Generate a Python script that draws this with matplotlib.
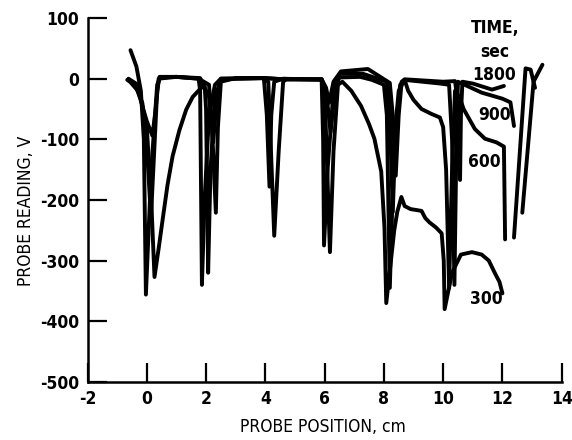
import numpy as np
import matplotlib
matplotlib.use("Agg")
import matplotlib.pyplot as plt

nan = np.nan

# probe traces: position (cm), reading (V)
x_300 = [-0.55, -0.35, -0.2, -0.1, -0.03, 0.15, 0.35, 0.45, 1.0, 1.75, 1.8, 1.86, 1.95, 2.1, 2.3, 2.5,
         3.9, 4.1, 4.3, 4.45, 4.6, 4.7, 5.9, 6.0, 6.18, 6.3, 6.45, 6.6, 6.9, 7.23, 7.5, 7.68, 7.91,
         8.02, 8.08, 8.35, 8.45, 8.59, 8.7, 8.9, 9.27, 9.4, 9.54, 9.75, 9.95, 10.02, 10.05, 10.3,
         10.5, 10.6, 10.97, 11.3, 11.54, 11.76, 11.9, 12.0]
v_300 = [47, 20, -20, -100, -356, -150, -10, 2, 3, 0, -20, -340, -200, -60, -10, 0,
         1, -5, -259, -120, -5, -1, -1, -20, -286, -120, -10, -5, -20, -45, -75, -99, -153,
         -246, -370, -250, -220, -195, -210, -215, -218, -230, -237, -245, -255, -300, -380, -320,
         -300, -290, -286, -290, -300, -322, -335, -354]

x_600 = [-0.62, -0.3, 0.0, 0.15, 0.26, 0.4, 0.55, 0.7, 0.87, 1.1, 1.33, 1.55, 1.78, 1.95, 2.0, 2.07,
         2.15, 2.3, 2.5, 3.0, 3.95, 4.05, 4.14, 4.2, 4.3, 4.6, 5.9, 5.95, 5.98, 6.1, 6.3, 6.5, 7.2,
         7.6, 8.0, 8.1, 8.2, 8.35, 8.5, 8.7, 8.82, 9.0, 9.27, 9.6, 9.89, 10.0, 10.1, 10.2, 10.3,
         10.4, 10.55, 10.69, 11.07, 11.41, 11.8, 12.05, 12.09]
v_600 = [0, -10, -80, -200, -327, -280, -227, -175, -128, -85, -51, -30, -18, -10, -50, -320,
         -150, -30, -2, 0, 1, -60, -178, -60, -5, 0, -2, -100, -275, -150, -20, 2, 3,
         -2, -10, -60, -345, -100, -20, -2, -20, -35, -50, -58, -64, -80, -150, -345, -150,
         -20, -30, -50, -83, -99, -105, -112, -265]

x_900 = [-0.66, -0.4, -0.15, 0.0, 0.14, 0.25, 0.35, 0.43, 1.0, 1.75, 2.1, 2.2, 2.33, 2.4, 2.5, 3.0,
         4.0, 4.6, 5.9, 6.05, 6.2, 6.35, 6.5, 7.3, 8.1, 8.2, 8.3, 8.4, 8.55, 8.7, 9.9, 10.2, 10.3,
         10.38, 10.45, 10.5, 11.3, 12.0, 12.27, 12.39, nan, 12.39, 12.78, 12.95, 13.1]
v_900 = [-2, -10, -40, -110, -229, -120, -20, 3, 3, 0, -10, -80, -221, -80, -5, 1,
         1, -1, -1, -20, -88, -20, 8, 8, -5, -60, -220, -80, -10, -2, -8, -10, -100,
         -340, -100, -5, -23, -33, -39, -78, nan, -262, 17, 15, -15]

x_1800 = [-0.6, -0.3, 0.0, 0.19, 0.3, 0.4, 1.0, 1.8, 2.1, 2.24, 2.35, 2.5, 4.0, 4.6, 5.9, 6.05, 6.15,
          6.3, 6.55, 7.46, 8.2, 8.3, 8.4, 8.5, 8.6, 8.7, 10.0, 10.4, 10.5, 10.57, 10.6, 10.65,
          11.0, 11.65, 12.05, nan, 12.67, 13.05, 13.35]
v_1800 = [-3, -20, -70, -94, -50, 0, 3, 1, -30, -105, -40, 0, 1, -1, -1, -15, -40,
          -5, 12, 16, -7, -60, -160, -60, -5, -1, -5, -4, -40, -167, -60, -5,
          -8, -18, -12, nan, -221, -5, 23]

traces = {"300": (x_300, v_300), "600": (x_600, v_600),
          "900": (x_900, v_900), "1800": (x_1800, v_1800)}

# label anchor points (cm, V)
label_x = {"1800": 11.72, "900": 11.73, "600": 11.4, "300": 11.46}
label_v = {"1800": 6, "900": -60, "600": -137, "300": -364}

x_ticks = [-2, 0, 2, 4, 6, 8, 10, 12, 14]
y_ticks = [-500, -400, -300, -200, -100, 0, 100]

plt.rcParams["font.family"] = ["DejaVu Sans"]
plt.rcParams["font.stretch"] = "condensed"
plt.rcParams["font.weight"] = "bold"

fig = plt.figure(figsize=(5.72, 4.4), dpi=100)
ax = fig.add_axes([0.153, 0.132, 0.829, 0.827])

for name, (xs, vs) in traces.items():
    ax.plot(xs, vs, color="black", linewidth=2.8, solid_joinstyle="round", solid_capstyle="round")

for name in traces:
    ax.text(label_x[name], label_v[name], name, ha="center", va="center", fontsize=12.5)
ax.text(11.75, 84, "TIME,", ha="center", va="center", fontsize=12.5)
ax.text(11.75, 44, "sec", ha="center", va="center", fontsize=12.5)

ax.set_xlim(-2, 14)
ax.set_ylim(-500, 100)
ax.set_xticks(x_ticks)
ax.set_yticks(y_ticks)
ax.set_xticklabels([str(t) for t in x_ticks])
ax.set_yticklabels([str(t) for t in y_ticks])
ax.tick_params(direction="in", length=14, width=1.6, labelsize=12.5, pad=6)

for side in ["top", "right"]:
    ax.spines[side].set_visible(False)
for side in ["left", "bottom"]:
    ax.spines[side].set_linewidth(1.8)

ax.set_xlabel("PROBE POSITION, cm", fontsize=12.5)
ax.set_ylabel("PROBE READING, V", fontsize=12.5)
ax.xaxis.set_label_coords(0.497, -0.1)
ax.yaxis.set_label_coords(-0.11, 0.47)

fig.savefig("out.png", dpi=100)
